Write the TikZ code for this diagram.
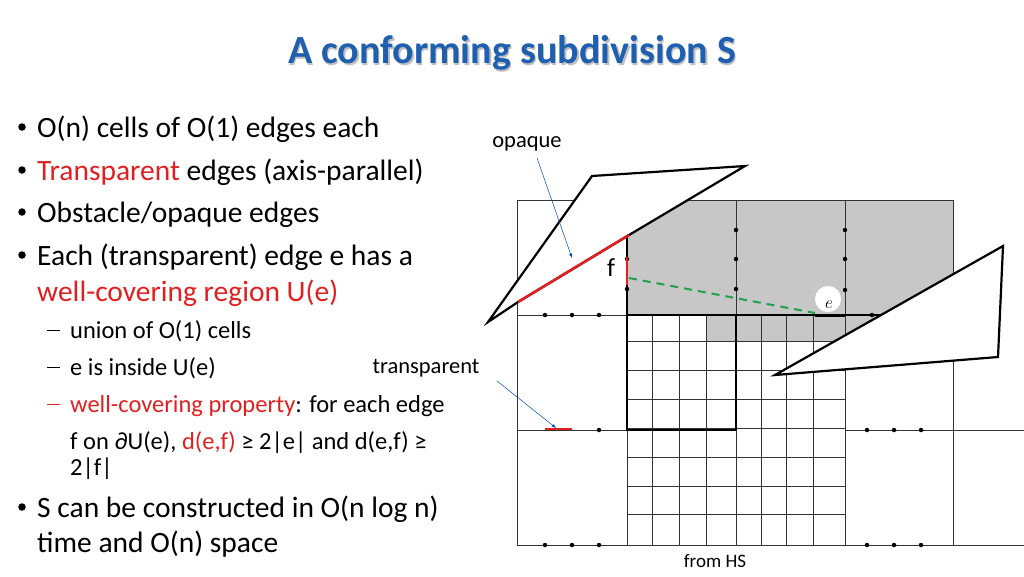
\documentclass[tikz,border=0pt]{standalone}
\usepackage{fontspec}
\setmainfont{Carlito}
\begin{document}
\begin{tikzpicture}[x=1pt,y=-1pt,
 thin line/.style={line width=0.6pt,black!80},
 thick line/.style={line width=1.6pt},
 poly/.style={line width=2.2pt,fill=white,line join=miter},
 dotm/.style={circle,fill=black,inner sep=0pt,minimum size=4.5pt},
 txt/.style={anchor=base west,inner sep=0pt,font=\fontsize{29.5}{34}\selectfont},
 stxt/.style={anchor=base west,inner sep=0pt,font=\fontsize{24.5}{28}\selectfont},
 lbl/.style={inner sep=0pt,font=\fontsize{22.5}{26}\selectfont},
 pointer/.style={draw=blue!60!cyan!70!black,line width=0.5pt,-latex}]
\definecolor{ttl}{HTML}{1F5FAF}
\definecolor{rd}{HTML}{E02020}
\definecolor{gr}{HTML}{22A04A}
\useasboundingbox (0,0) rectangle (1024,576);
% title
\node[font=\fontsize{40}{46}\selectfont\bfseries,text=black!25] at (513.5,54.5) {A conforming subdivision S};
\node (title)[font=\fontsize{40}{46}\selectfont\bfseries,text=ttl] at (512,53) {A conforming subdivision S};
% bullets
\foreach \y in {127,170,212,255,507}{\node[circle,fill=black,inner sep=0pt,minimum size=7.5pt] at (22,\y) {};}
\node[txt] (b1) at (37,137) {O(n) cells of O(1) edges each};
\node[txt] (b2) at (37,180) {\textcolor{rd}{Transparent} edges (axis-parallel)};
\node[txt] (b3) at (37,222) {Obstacle/opaque edges};
\node[txt] (b4) at (37,265) {Each (transparent) edge e has a};
\node[txt,text=rd] (b4b) at (37,301) {well-covering region U(e)};
\foreach \y/\c in {330/black,367/black,404/rd}{\draw[\c,line width=1pt] (47,\y) -- (60,\y);}
\node[stxt] (s1) at (70,338) {union of O(1) cells};
\node[stxt] (s2) at (70,375) {e is inside U(e)};
\node[stxt] (s3) at (70,412) {\textcolor{rd}{well-covering property}: for each edge};
\node[stxt] (s3b) at (70,449) {f on ∂U(e), \textcolor{rd}{d(e,f)} ≥ 2|e| and d(e,f) ≥};
\node[stxt] (s3c) at (70,475) {2|f|};
\node[txt] (b5) at (37,517) {S can be constructed in O(n log n)};
\node[txt] (b5b) at (37,552) {time and O(n) space};
% gray region
\fill[black!22] (627,200) rectangle (953,315);
\fill[black!22] (706,315) rectangle (953,341);
% fine grid
\foreach \x in {652,679,706,736,761,786,813}{\draw[thin line] (\x,315) -- (\x,545);}
\foreach \y in {341,370,399,428,457,486,514}{\draw[thin line] (627,\y) -- (845,\y);}
% coarse grid
\draw[thin line] (517,200) rectangle (953,545);
\foreach \x in {627,736,845}{\draw[thin line] (\x,200) -- (\x,315);}
\draw[thin line] (627,315) -- (627,545);
\draw[thin line] (845,315) -- (845,545);
\draw[thin line] (517,315) -- (627,315);
\draw[thin line] (517,430) -- (627,430);
\draw[thin line] (845,430) -- (1024,430);
\draw[thin line] (953,545) -- (1024,545);
\draw[thick line] (627,315) -- (880,315);
\draw[thick line] (627,232) -- (627,430) -- (736,430);
\draw[line width=1.2pt] (736,315) -- (736,430);
% dots
\foreach \x/\y in {545/315,572/315,599/315,599/430,545/545,572/545,599/545,
 872/315,867/430,894/430,921/430,867/545,894/545,921/545,
 736/230,736/259,736/289,845/230,845/259,845/290,627/259,627/289}{\node[dotm] at (\x,\y) {};}
% polygons
\draw[poly] (488,322) -- (592,176) -- (745,166) -- (629,235) -- (518,302) -- cycle;
\draw[rd,line width=2.6pt] (629,235) -- (518,302);
\draw[poly] (775,375) -- (1003,246) -- (998,357) -- cycle;
% f, e
\draw[rd,line width=2.6pt] (627,257) -- (627,285);
\node[font=\fontsize{26}{30}\selectfont] (f) at (611,268) {f};
\draw[gr,line width=2pt,dash pattern=on 8pt off 6pt] (629,278) -- (815,313);
\fill[white] (828,299) circle (13);
\node[font=\fontsize{16}{18}\selectfont,inner sep=0pt] (e) at (829,305) {$e$};
\draw[line width=3pt] (815,315) -- (845,315);
\draw[rd,line width=2.8pt] (545,429) -- (572,429);
% labels
\node[lbl] (op) at (527,144) {opaque};
\node[lbl] (tr) at (426,368) {transparent};
\node[font=\fontsize{19}{22}\selectfont] (hs) at (715,561) {from HS};
\coordinate (opt) at (572,258);
\coordinate (trt) at (556,428);
\draw[pointer] (537,158) -- (opt);
\draw[pointer] (497,381) -- (trt);
\end{tikzpicture}
\end{document}
